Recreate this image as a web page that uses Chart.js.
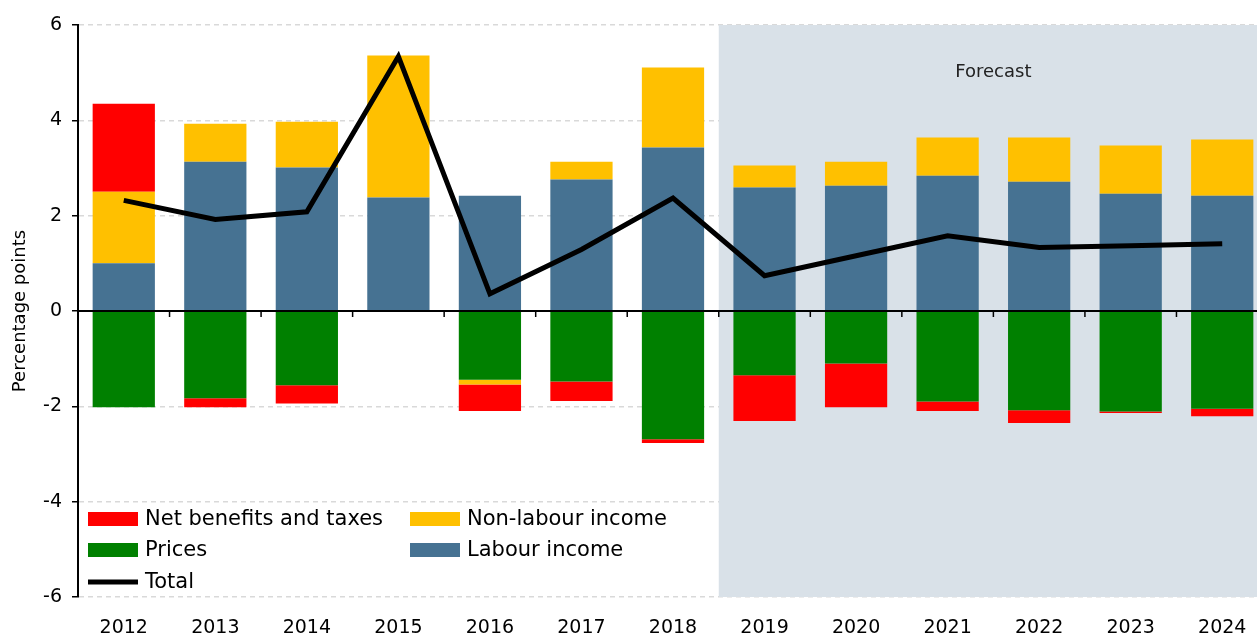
<!DOCTYPE html>
<html>
<head>
<meta charset="utf-8">
<script src="https://cdn.jsdelivr.net/npm/chart.js@4.4.1/dist/chart.umd.min.js"></script>
<style>
  html, body { margin: 0; padding: 0; background: #fff; overflow: hidden; }
  #wrap { position: relative; width: 1268px; height: 635px; }
</style>
</head>
<body>
<div id="wrap"><canvas id="incomeChart"></canvas></div>
<script>
const years = ["2012", "2013", "2014", "2015", "2016", "2017", "2018", "2019", "2020", "2021", "2022", "2023", "2024"];
const labourIncome = [1.00, 3.13, 3.01, 2.38, 2.42, 2.76, 3.43, 2.59, 2.63, 2.84, 2.71, 2.46, 2.42];
const prices = [-2.02, -1.83, -1.56, 0, -1.44, -1.48, -2.69, -1.35, -1.10, -1.90, -2.08, -2.11, -2.05];
const nonLabourIncome = [1.50, 0.80, 0.96, 2.98, -0.10, 0.37, 1.68, 0.46, 0.50, 0.80, 0.93, 1.01, 1.18];
const netBenefits = [1.85, -0.19, -0.38, -0.02, -0.56, -0.41, -0.08, -0.96, -0.92, -0.20, -0.27, -0.03, -0.16];
const total = [2.32, 1.92, 2.08, 5.34, 0.36, 1.29, 2.37, 0.74, 1.16, 1.58, 1.33, 1.37, 1.41];
const yTicks = [-6, -4, -2, 0, 2, 4, 6];
const forecastFrom = "2019";

const FONT = "'DejaVu Sans', sans-serif";

// shaded forecast block, drawn over the gridlines but under the bars
const forecastShade = {
    id: 'forecastShade',
    beforeDatasetsDraw(chart) {
        const { ctx, chartArea, scales } = chart;
        const i = years.indexOf(forecastFrom);
        const x0 = (scales.x.getPixelForValue(i - 1) + scales.x.getPixelForValue(i)) / 2;
        ctx.save();
        ctx.fillStyle = '#D9E1E8';
        ctx.fillRect(x0, chartArea.top, chartArea.right - x0, chartArea.bottom - chartArea.top);
        ctx.fillStyle = '#222';
        ctx.font = '18px ' + FONT;
        ctx.textAlign = 'center';
        ctx.textBaseline = 'middle';
        ctx.fillText('Forecast', (x0 + chartArea.right) / 2, scales.y.getPixelForValue(5));
        ctx.restore();
    }
};

// zero line with category tick marks, plus the legend inside the plot
const zeroAxisAndLegend = {
    id: 'zeroAxisAndLegend',
    afterDatasetsDraw(chart) {
        const { ctx, chartArea, scales } = chart;
        const y0 = scales.y.getPixelForValue(0);
        ctx.save();
        ctx.strokeStyle = '#000';
        ctx.lineWidth = 2;
        ctx.beginPath();
        ctx.moveTo(chartArea.left, y0);
        ctx.lineTo(chartArea.right, y0);
        ctx.stroke();
        ctx.lineWidth = 1.5;
        for (let i = 1; i < years.length; i++) {
            const x = (scales.x.getPixelForValue(i - 1) + scales.x.getPixelForValue(i)) / 2;
            ctx.beginPath();
            ctx.moveTo(x, y0);
            ctx.lineTo(x, y0 + 6);
            ctx.stroke();
        }

        const items = [
            { text: 'Net benefits and taxes', color: '#FF0000', x: 88, y: 519 },
            { text: 'Non-labour income', color: '#FFC000', x: 410, y: 519 },
            { text: 'Prices', color: '#008000', x: 88, y: 550 },
            { text: 'Labour income', color: '#467292', x: 410, y: 550 },
            { text: 'Total', color: '#000', x: 88, y: 582, line: true }
        ];
        ctx.font = '21px ' + FONT;
        ctx.textBaseline = 'middle';
        ctx.textAlign = 'left';
        items.forEach(it => {
            ctx.fillStyle = it.color;
            if (it.line) ctx.fillRect(it.x, it.y - 2.5, 50, 5);
            else ctx.fillRect(it.x, it.y - 7, 50, 14);
            ctx.fillStyle = '#000';
            ctx.fillText(it.text, it.x + 57, it.y + 1);
        });
        ctx.restore();
    }
};

const barDefaults = { type: 'bar', stack: 'parts', order: 1, barPercentage: 0.68, categoryPercentage: 1 };

new Chart(document.getElementById('incomeChart'), {
    data: {
        labels: years,
        datasets: [
            { ...barDefaults, label: 'Labour income', data: labourIncome, backgroundColor: '#467292' },
            { ...barDefaults, label: 'Prices', data: prices, backgroundColor: '#008000' },
            { ...barDefaults, label: 'Non-labour income', data: nonLabourIncome, backgroundColor: '#FFC000' },
            { ...barDefaults, label: 'Net benefits and taxes', data: netBenefits, backgroundColor: '#FF0000' },
            {
                type: 'line', label: 'Total', data: total, stack: 'total', order: 0,
                borderColor: '#000', borderWidth: 5, pointRadius: 0, tension: 0, fill: false
            }
        ]
    },
    options: {
        responsive: true,
        maintainAspectRatio: false,
        animation: false,
        layout: { padding: { top: 25, left: 0, right: 0, bottom: 0 } },
        scales: {
            x: {
                stacked: true,
                grid: { display: false },
                border: { display: false },
                ticks: { color: '#000', font: { family: FONT, size: 19 }, padding: 12 },
                afterFit(scale) { scale.height = 38; }
            },
            y: {
                stacked: true,
                min: -6,
                max: 6,
                afterBuildTicks(scale) { scale.ticks = yTicks.map(v => ({ value: v })); },
                grid: {
                    color: ctx => ctx.tick && ctx.tick.value === 0 ? 'rgba(0,0,0,0)' : '#d9d9d9',
                    lineWidth: 1.5,
                    tickColor: '#000',
                    tickLength: 6
                },
                border: { display: true, color: '#000', width: 2, dash: [5, 4] },
                ticks: { color: '#000', font: { family: FONT, size: 19 }, padding: 10 },
                title: {
                    display: true,
                    text: 'Percentage points',
                    color: '#000',
                    font: { family: FONT, size: 18 },
                    padding: { top: 10, bottom: 0 }
                },
                afterFit(scale) { scale.width = 78; }
            }
        },
        plugins: {
            legend: { display: false },
            tooltip: { enabled: false }
        }
    },
    plugins: [forecastShade, zeroAxisAndLegend]
});
</script>
</body>
</html>
